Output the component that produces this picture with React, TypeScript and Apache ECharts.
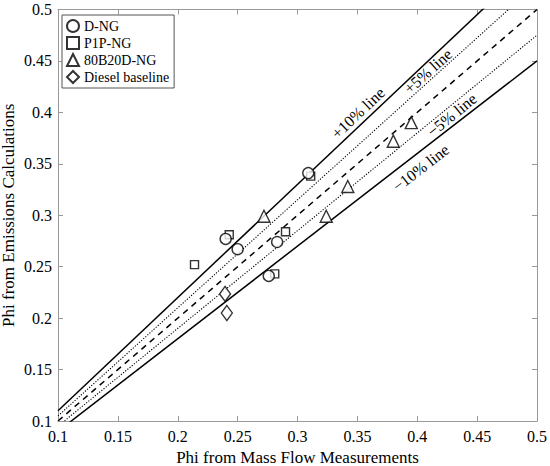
import React, { useEffect, useRef } from "react";
import * as echarts from "echarts";

const FONT = '"Liberation Serif", "Times New Roman", serif';

const seriesNames = ["D-NG", "P1P-NG", "80B20D-NG", "Diesel baseline"];
const dNG = [[0.309, 0.341], [0.240, 0.277], [0.250, 0.267], [0.283, 0.274], [0.276, 0.241]];
const p1pNG = [[0.311, 0.338], [0.243, 0.281], [0.214, 0.252], [0.290, 0.284], [0.281, 0.243]];
const b20dNG = [[0.272, 0.299], [0.324, 0.299], [0.342, 0.328], [0.380, 0.372], [0.395, 0.390]];
const diesel = [[0.2395, 0.2235], [0.241, 0.205]];

const axisMin = 0.1;
const axisMax = 0.5;
const axisStep = 0.05;

// reference lines: ratio of calculated / measured
const refRatios = [1.0, 1.05, 0.95, 1.1, 0.9];
const refStyles = ["dashed", "dotted", "dotted", "solid", "solid"];

// label annotations (data coordinates of label centre)
const refLabelTexts = ["+10% line", "+5% line", "\u22125% line", "\u221210% line"];
const refLabelRatios = [1.1, 1.05, 0.95, 0.9];
const refLabelX = [0.3505, 0.409, 0.429, 0.403];
const refLabelY = [0.3994, 0.44, 0.3975, 0.346];

export default function App() {
  const ref = useRef<HTMLDivElement>(null);
  useEffect(() => {
    if (!ref.current) return;
    const chart = echarts.init(ref.current, undefined, { renderer: "svg" });
    const hollow = { color: "#fff", borderColor: "#000", borderWidth: 1.4 };
    const lineTypeOf = (s: string) =>
      s === "dashed" ? [6, 5] : s === "dotted" ? [1.2, 1.6] : "solid";
    const refSeries = refRatios.map((k, i) => ({
      type: "line",
      data: [[axisMin, axisMin * k], [axisMax, axisMax * k]],
      showSymbol: false,
      symbol: "none",
      clip: true,
      silent: true,
      z: 1,
      lineStyle: {
        color: "#000",
        width: refStyles[i] === "dotted" ? 1.1 : 1.5,
        type: lineTypeOf(refStyles[i]),
      },
    }));
    const axisCommon = {
      type: "value",
      min: axisMin,
      max: axisMax,
      interval: axisStep,
      splitLine: { show: false },
      axisLine: { show: true, lineStyle: { color: "#999", width: 1 } },
      axisTick: { show: true, inside: true, length: 5, lineStyle: { color: "#999" } },
    };
    chart.setOption({
      animation: false,
      grid: {
        left: 58,
        right: 13,
        top: 9.5,
        bottom: 45,
        containLabel: false,
        outerBoundsMode: "none",
      },
      xAxis: [
        {
          ...axisCommon,
          position: "bottom",
          name: "Phi from Mass Flow Measurements",
          nameLocation: "middle",
          nameGap: 24,
          nameTextStyle: { fontFamily: FONT, fontSize: 17, color: "#000" },
          axisLabel: { fontFamily: FONT, fontSize: 16, color: "#000", margin: 7 },
        },
        { ...axisCommon, position: "top", axisLabel: { show: false } },
      ],
      yAxis: [
        {
          ...axisCommon,
          position: "left",
          name: "Phi from Emissions Calculations",
          nameLocation: "middle",
          nameGap: 41,
          nameMoveOverlap: false,
          nameTextStyle: { fontFamily: FONT, fontSize: 17, color: "#000" },
          axisLabel: { fontFamily: FONT, fontSize: 16, color: "#000", margin: 6 },
        },
        { ...axisCommon, position: "right", axisLabel: { show: false } },
      ],
      legend: {
        data: seriesNames,
        orient: "vertical",
        left: 62,
        top: 15,
        itemWidth: 12,
        itemHeight: 12,
        itemGap: 3,
        padding: [4, 5, 4, 4],
        borderColor: "#555",
        borderWidth: 1,
        backgroundColor: "#fff",
        textStyle: { fontFamily: FONT, fontSize: 14, color: "#000" },
      },
      series: [
        ...refSeries,
        { name: seriesNames[0], type: "scatter", data: dNG, symbol: "circle", symbolSize: 11, itemStyle: hollow, z: 5 },
        { name: seriesNames[1], type: "scatter", data: p1pNG, symbol: "rect", symbolSize: 8, itemStyle: hollow, z: 4 },
        { name: seriesNames[2], type: "scatter", data: b20dNG, symbol: "triangle", symbolSize: 12, itemStyle: hollow, z: 5 },
        { name: seriesNames[3], type: "scatter", data: diesel, symbol: "diamond", symbolSize: [11, 15], itemStyle: hollow, z: 5 },
      ],
    });

    const graphics = refLabelTexts.map((t, i) => {
      const k = refLabelRatios[i];
      const p = chart.convertToPixel({ gridIndex: 0 }, [refLabelX[i], refLabelY[i]]) as number[];
      const a = chart.convertToPixel({ gridIndex: 0 }, [0.2, 0.2 * k]) as number[];
      const b = chart.convertToPixel({ gridIndex: 0 }, [0.4, 0.4 * k]) as number[];
      const ang = Math.atan2(-(b[1] - a[1]), b[0] - a[0]);
      return {
        type: "text",
        x: p[0],
        y: p[1],
        rotation: ang,
        z: 10,
        style: {
          text: t,
          fontFamily: FONT,
          fontSize: 16,
          fill: "#000",
          align: "center",
          verticalAlign: "middle",
        },
      };
    });
    chart.setOption({ graphic: graphics });

    return () => chart.dispose();
  }, []);
  return (
    <div
      ref={ref}
      style={{ position: "fixed", left: 0, top: 0, width: 550, height: 466, background: "#fff" }}
    />
  );
}
